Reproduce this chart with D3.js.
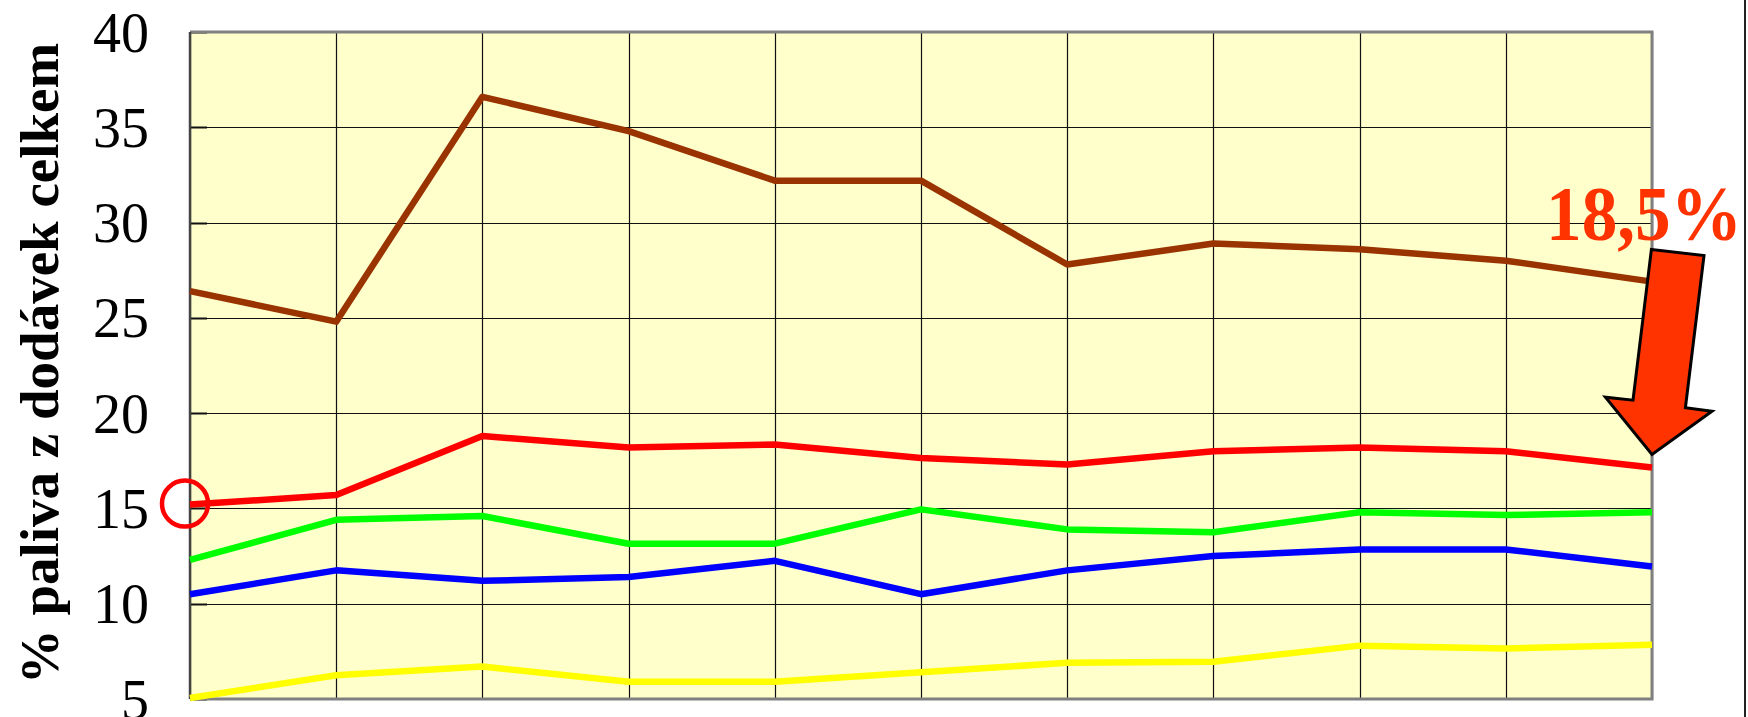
<!DOCTYPE html>
<html>
<head>
<meta charset="utf-8">
<script src="https://cdn.jsdelivr.net/npm/d3@7"></script>
<style>
  html, body { margin: 0; padding: 0; background: #fff; }
  svg { display: block; }
</style>
</head>
<body>
<div class="chart"></div>
<script>
// period indices (no labels visible on the x axis)
var obdobi = ["1", "2", "3", "4", "5", "6", "7", "8", "9", "10", "11"];
var yTicks = [5, 10, 15, 20, 25, 30, 35, 40];

// series values, % of total supply
var hneda   = [26.4, 24.8, 36.6, 34.8, 32.2, 32.2, 27.8, 28.9, 28.6, 28.0, 26.9];
var cervena = [15.2, 15.7, 18.8, 18.2, 18.35, 17.65, 17.3, 18.0, 18.2, 18.0, 17.15];
var zelena  = [12.3, 14.4, 14.6, 13.15, 13.15, 14.95, 13.9, 13.75, 14.8, 14.65, 14.8];
var modra   = [10.5, 11.75, 11.2, 11.4, 12.25, 10.5, 11.75, 12.5, 12.85, 12.85, 11.95];
var zluta   = [5.05, 6.25, 6.7, 5.9, 5.9, 6.4, 6.9, 6.95, 7.8, 7.65, 7.85];

var popisek = "18,5%";
var osaY = "% paliva z dodávek celkem";

function drawChart() {
    var width = 1748, height = 717;
    var left = 190, right = 1652, top = 32, bottom = 699;
    var serif = '"Liberation Serif", "Times New Roman", serif';

    var svg = d3.select('.chart')
        .append('svg')
        .attr('width', width)
        .attr('height', height);

    var x = d3.scalePoint().domain(obdobi).range([left, right]);
    var y = d3.scaleLinear().domain([5, 40]).range([bottom, top]);

    // plot background
    svg.append('rect')
        .attr('x', left).attr('y', top)
        .attr('width', right - left).attr('height', bottom - top)
        .attr('fill', '#FFFFCC');

    // grid
    var grid = svg.append('g').attr('class', 'grid')
        .attr('stroke', '#111').attr('stroke-width', 1.2);
    grid.selectAll('line.h')
        .data(yTicks)
        .enter().append('line')
            .attr('class', 'h')
            .attr('x1', left).attr('x2', right)
            .attr('y1', function(d){ return Math.round(y(d)) + 0.5; })
            .attr('y2', function(d){ return Math.round(y(d)) + 0.5; });
    grid.selectAll('line.v')
        .data(obdobi)
        .enter().append('line')
            .attr('class', 'v')
            .attr('y1', top).attr('y2', bottom)
            .attr('x1', function(d){ return Math.round(x(d)) + 0.5; })
            .attr('x2', function(d){ return Math.round(x(d)) + 0.5; });

    // short inner ticks on the left side
    grid.selectAll('line.t')
        .data(yTicks)
        .enter().append('line')
            .attr('class', 't')
            .attr('stroke-width', 2)
            .attr('x1', left).attr('x2', left + 17)
            .attr('y1', function(d){ return Math.round(y(d)) + 0.5; })
            .attr('y2', function(d){ return Math.round(y(d)) + 0.5; });

    // frame: gray top/right/bottom, dark left
    var frame = svg.append('g').attr('fill', 'none');
    frame.append('path')
        .attr('d', 'M' + left + ',' + top + 'H' + right + 'V' + bottom + 'H' + left)
        .attr('stroke', '#808080').attr('stroke-width', 3);
    frame.append('line')
        .attr('x1', left).attr('x2', left).attr('y1', top).attr('y2', bottom)
        .attr('stroke', '#444').attr('stroke-width', 2.5);

    // y axis labels
    var yAxis = d3.axisLeft(y).tickValues(yTicks).tickSize(0).tickPadding(0);
    var ax = svg.append('g')
        .attr('transform', 'translate(' + (left - 41) + ',0)')
        .call(yAxis);
    ax.select('.domain').remove();
    ax.selectAll('text')
        .attr('font-family', serif)
        .attr('font-size', 56)
        .attr('fill', '#000')
        .attr('dy', '0.34em');

    // y axis title
    svg.append('text')
        .attr('transform', 'translate(58,' + ((top + bottom) / 2 - 2) + ') rotate(-90)')
        .attr('text-anchor', 'middle')
        .attr('font-family', serif)
        .attr('font-weight', 'bold')
        .attr('font-size', 55)
        .attr('fill', '#000')
        .text(osaY);

    // series
    var series = [
        { values: zluta,   color: '#FFFF00' },
        { values: modra,   color: '#0000FF' },
        { values: zelena,  color: '#00FF00' },
        { values: cervena, color: '#FF0000' },
        { values: hneda,   color: '#993300' }
    ];
    var line = d3.line()
        .x(function(d, i){ return x(obdobi[i]); })
        .y(function(d){ return y(d); });
    svg.append('g').attr('class', 'lines')
        .selectAll('path')
        .data(series)
        .enter().append('path')
            .attr('d', function(d){ return line(d.values); })
            .attr('fill', 'none')
            .attr('stroke', function(d){ return d.color; })
            .attr('stroke-width', 6.5)
            .attr('stroke-linejoin', 'round');

    // circle at start of red series
    svg.append('circle')
        .attr('cx', x(obdobi[0]) - 5)
        .attr('cy', y(cervena[0]) - 1)
        .attr('r', 23)
        .attr('fill', 'none')
        .attr('stroke', '#FF0000')
        .attr('stroke-width', 4.5);

    // arrow pointing at end of red series
    var last = obdobi.length - 1;
    var tx = x(obdobi[last]), ty = y(cervena[last]) - 13;
    var arrow = [[-0.6, -205], [52, -199], [33.4, -46.7], [60, -43.3], [0, 0], [-46.6, -57.3], [-19, -54.3]];
    svg.append('polygon')
        .attr('points', arrow.map(function(p){ return (tx + p[0]) + ',' + (ty + p[1]); }).join(' '))
        .attr('fill', '#FF3300')
        .attr('stroke', '#000')
        .attr('stroke-width', 3)
        .attr('stroke-linejoin', 'miter');

    // label, squeezed horizontally to the reference width
    var label = svg.append('text')
        .attr('font-family', serif)
        .attr('font-weight', 'bold')
        .attr('font-size', 78)
        .attr('fill', '#FF3300')
        .text(popisek);
    var w = label.node().getComputedTextLength();
    var sx = w > 0 ? 196 / w : 1;
    label.attr('transform', 'translate(' + (tx - 106) + ',' + (ty - 214) + ') scale(' + sx + ',1)');

    // slide edge on the right
    svg.append('line')
        .attr('x1', 1745).attr('x2', 1745).attr('y1', 0).attr('y2', height)
        .attr('stroke', '#222').attr('stroke-width', 2);
}
drawChart();
</script>
</body>
</html>
